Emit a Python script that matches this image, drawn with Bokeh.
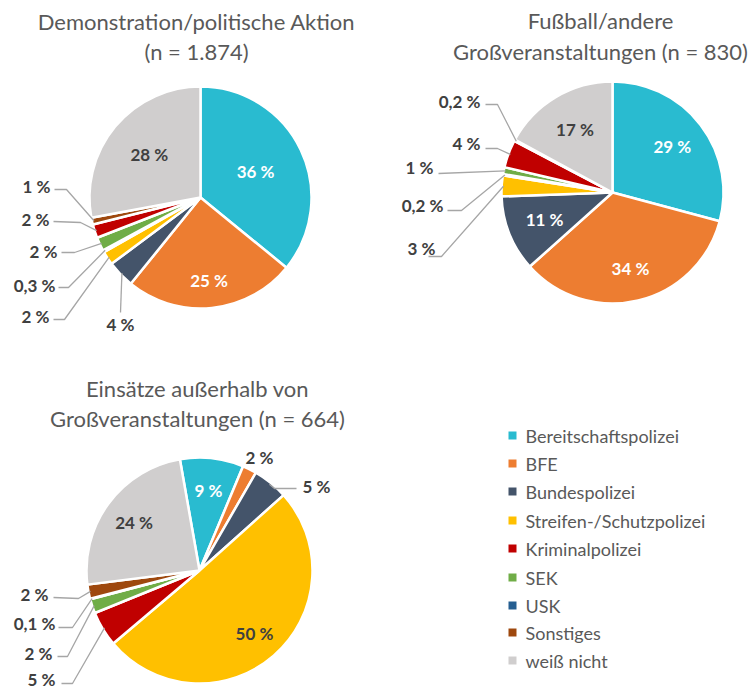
import math
from bokeh.plotting import figure
from bokeh.models import Range1d, ColumnDataSource
from bokeh.core.properties import value
from bokeh.embed import file_html
from bokeh.resources import INLINE

# ---------------- data ----------------
categories = ["Bereitschaftspolizei", "BFE", "Bundespolizei", "Streifen-/Schutzpolizei",
              "Kriminalpolizei", "SEK", "USK", "Sonstiges", "weiß nicht"]
category_colors = ["#29BBD0", "#ED7D31", "#44546A", "#FFC000", "#C00000",
                   "#70AD47", "#255E91", "#9E480E", "#D0CECE"]

demo_title = ["Demonstration/politische Aktion", "(n = 1.874)"]
demo_order = ["Bereitschaftspolizei", "BFE", "Bundespolizei", "Streifen-/Schutzpolizei",
              "USK", "SEK", "Kriminalpolizei", "Sonstiges", "weiß nicht"]
demo_values = [36, 25, 4, 2, 0.3, 2, 2, 1, 28]

fuss_title = ["Fußball/andere", "Großveranstaltungen (n = 830)"]
fuss_order = ["Bereitschaftspolizei", "BFE", "Bundespolizei", "Streifen-/Schutzpolizei",
              "USK", "SEK", "Kriminalpolizei", "Sonstiges", "weiß nicht"]
fuss_values = [29, 34, 11, 3, 0.2, 1, 4, 0.2, 17]

eins_title = ["Einsätze außerhalb von", "Großveranstaltungen (n = 664)"]
eins_order = ["Bereitschaftspolizei", "BFE", "Bundespolizei", "Streifen-/Schutzpolizei",
              "Kriminalpolizei", "SEK", "USK", "Sonstiges", "weiß nicht"]
eins_values = [9, 2, 5, 50, 5, 2, 0.1, 2, 24]

# ---------------- styling ----------------
FONT = "Lato"
TITLE_COLOR = "#595959"
DARK = "#404040"
LEADER = "#A6A6A6"
color_of = dict(zip(categories, category_colors))

W, H = 755, 691
p = figure(width=W, height=H, x_range=Range1d(0, W), y_range=Range1d(0, H),
           output_backend="svg", toolbar_location=None, min_border=0,
           x_axis_location=None, y_axis_location=None)
p.xgrid.visible = False
p.ygrid.visible = False
p.outline_line_color = None
p.background_fill_color = "white"
p.border_fill_color = "white"


def Y(yr):
    return H - yr


def fmt(v):
    if float(v).is_integer():
        return f"{int(v)} %"
    return str(v).replace(".", ",") + " %"


def add_text(xs, ys, texts, color, size, style="normal", align="center"):
    p.text(x=xs, y=[Y(y) for y in ys], text=texts, text_font=value(FONT),
           text_font_size=size, text_font_style=style, text_color=color,
           text_align=align, text_baseline="middle")


def draw_pie(cx, cy, r, start_deg, order, vals, title, title_pos, inside, outside):
    total = sum(vals)
    cum = 0.0
    sa, ea, cols, mids = [], [], [], []
    for cat, v in zip(order, vals):
        a0 = start_deg + cum / total * 360.0
        cum += v
        a1 = start_deg + cum / total * 360.0
        sa.append(math.radians(90 - a1))
        ea.append(math.radians(90 - a0))
        cols.append(color_of[cat])
        mids.append((a0 + a1) / 2.0)
    src = ColumnDataSource(dict(start=sa, end=ea, color=cols, cat=list(order), val=list(vals)))
    p.wedge(x=cx, y=Y(cy), radius=r, start_angle="start", end_angle="end",
            direction="anticlock", fill_color="color", line_color="white",
            line_width=2.5, source=src)

    # inside labels
    for idx, (frac, col) in inside.items():
        m = math.radians(mids[idx])
        add_text([cx + frac * r * math.sin(m)], [cy - frac * r * math.cos(m)],
                 [fmt(vals[idx])], col, "17px", "bold")

    # outside labels with leader lines
    for idx, spec in outside.items():
        m = math.radians(mids[idx])
        ex = cx + (r - 2) * math.sin(m)
        ey = cy - (r - 2) * math.cos(m)
        tx, ty = spec["text"]
        add_text([tx], [ty], [fmt(vals[idx])], DARK, "17px", "bold", spec.get("align", "right"))
        if "attach" in spec:
            pts = [spec["attach"]]
            if spec.get("elbow") is not None:
                pts.append(spec["elbow"])
            pts.append((ex, ey))
            p.line(x=[q[0] for q in pts], y=[Y(q[1]) for q in pts],
                   line_color=LEADER, line_width=1.3)

    # title
    tx, ty1, ty2 = title_pos
    add_text([tx, tx], [ty1, ty2], title, TITLE_COLOR, "22px")


# Pie 1: Demonstration / politische Aktion
draw_pie(200, 197, 111, 0, demo_order, demo_values, demo_title, (196, 21, 51),
         inside={0: (0.55, "white"), 1: (0.75, "white"), 8: (0.6, DARK)},
         outside={
             2: dict(text=(120, 324), align="center", attach=(120, 312)),
             3: dict(text=(49, 316), attach=(53, 319), elbow=(64, 319)),
             4: dict(text=(55, 285), attach=(58, 287), elbow=(68, 287)),
             5: dict(text=(57, 251), attach=(61, 252), elbow=(74, 252)),
             6: dict(text=(49, 219), attach=(53, 221), elbow=(80, 222)),
             7: dict(text=(50, 186), attach=(54, 189), elbow=(66, 189)),
         })

# Pie 2: Fußball / andere Großveranstaltungen
draw_pie(612, 192, 111, 0, fuss_order, fuss_values, fuss_title, (600, 20, 51),
         inside={0: (0.68, "white"), 1: (0.7, "white"), 2: (0.66, "white"), 8: (0.66, DARK)},
         outside={
             3: dict(text=(435, 248), attach=(428, 256), elbow=(441, 256)),
             4: dict(text=(443, 205), attach=(447, 210), elbow=(461, 210)),
             5: dict(text=(433, 167), attach=(438, 173)),
             6: dict(text=(480, 143), attach=(485, 148), elbow=(497, 148)),
             7: dict(text=(480, 101), attach=(485, 104), elbow=(497, 104)),
         })

# Pie 3: Einsätze außerhalb von Großveranstaltungen
draw_pie(199, 570, 113, -10, eins_order, eins_values, eins_title, (197, 388, 418),
         inside={0: (0.71, "white"), 3: (0.74, DARK), 8: (0.72, DARK)},
         outside={
             1: dict(text=(259, 457), align="center"),
             2: dict(text=(302, 486), align="left", attach=(296, 488), elbow=(274, 488)),
             7: dict(text=(48, 594), attach=(53, 597), elbow=(78, 598)),
             6: dict(text=(55, 623), attach=(58, 627), elbow=(72, 627)),
             5: dict(text=(52, 653), attach=(57, 656), elbow=(67, 656)),
             4: dict(text=(55, 679), attach=(61, 683), elbow=(72, 683)),
         })

# Legend
leg_y = [435, 463, 491, 520, 548, 577, 605, 632, 660]
p.scatter(x=[512] * len(categories), y=[Y(v) for v in leg_y], marker="square", size=8,
          fill_color=category_colors, line_color=None)
add_text([525] * len(categories), leg_y, categories, TITLE_COLOR, "18px", align="left")

open("out.html", "w").write(file_html(p, INLINE))
